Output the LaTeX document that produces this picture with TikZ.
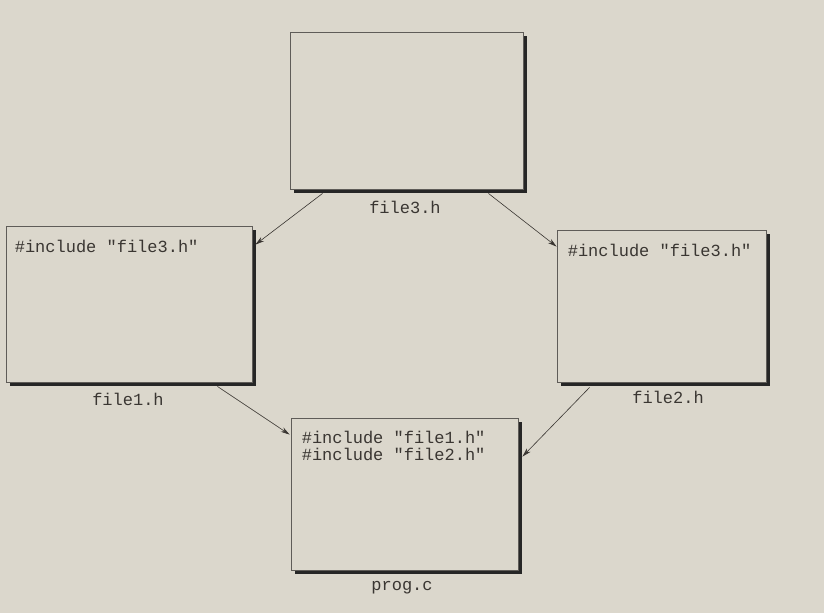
\documentclass[tikz,border=0pt]{standalone}
\usepackage{fontspec}
\setmonofont{Liberation Mono}
\usetikzlibrary{arrows.meta,shadows}
\definecolor{paper}{RGB}{219,215,204}
\definecolor{ink}{RGB}{58,54,50}
\definecolor{rule}{RGB}{95,92,88}
\tikzset{
  filebox/.style={draw=rule, line width=0.8pt, fill=paper, inner sep=0pt,
    drop shadow={shadow xshift=3.5pt, shadow yshift=-3.5pt, fill=black!85, opacity=1}},
  codetext/.style={text=ink, font=\ttfamily\fontsize{17}{17}\selectfont, inner sep=0pt, anchor=base west, align=left},
  fname/.style={text=ink, font=\ttfamily\fontsize{17}{17}\selectfont, inner sep=0pt, anchor=base},
  arr/.style={draw=ink, line width=0.6pt, -{Stealth[length=9pt,width=5pt]}}
}
\begin{document}
\begin{tikzpicture}[x=1pt,y=-1pt]
\fill[paper] (0,0) rectangle (824,613);
\useasboundingbox (0,0) rectangle (824,613);

\node[filebox, minimum width=233pt, minimum height=157pt] (f3) at (406.5,110.5) {};
\node[filebox, minimum width=246pt, minimum height=156pt] (f1) at (129,304) {};
\node[filebox, minimum width=209pt, minimum height=152pt] (f2) at (661.5,306) {};
\node[filebox, minimum width=227pt, minimum height=152pt] (pc) at (404.5,494) {};

\node[fname] (l3) at (405,213) {file3.h};
\node[fname] (l1) at (128,405) {file1.h};
\node[fname] (l2) at (668,403) {file2.h};
\node[fname] (lp) at (402,590) {prog.c};

\node[codetext] (t1) at ([xshift=9pt,yshift=-27pt]f1.north west) {\#include "file3.h"};
\node[codetext] (t2) at ([xshift=11pt,yshift=-27pt]f2.north west) {\#include "file3.h"};
\node[codetext] (tp1) at ([xshift=11pt,yshift=-26pt]pc.north west) {\#include "file1.h"};
\node[codetext] (tp2) at ([xshift=11pt,yshift=-43pt]pc.north west) {\#include "file2.h"};

\draw[arr] ([xshift=33pt,yshift=-4pt]f3.south west) -- ([xshift=3pt,yshift=-19pt]f1.north east);
\draw[arr] ([xshift=-35pt,yshift=-4pt]f3.south east) -- ([xshift=0pt,yshift=-17pt]f2.north west);
\draw[arr] ([xshift=-35pt,yshift=-4pt]f1.south east) -- ([xshift=-1pt,yshift=-17pt]pc.north west);
\draw[arr] ([xshift=33pt,yshift=-5pt]f2.south west) -- ([xshift=4pt,yshift=-39pt]pc.north east);
\end{tikzpicture}
\end{document}
